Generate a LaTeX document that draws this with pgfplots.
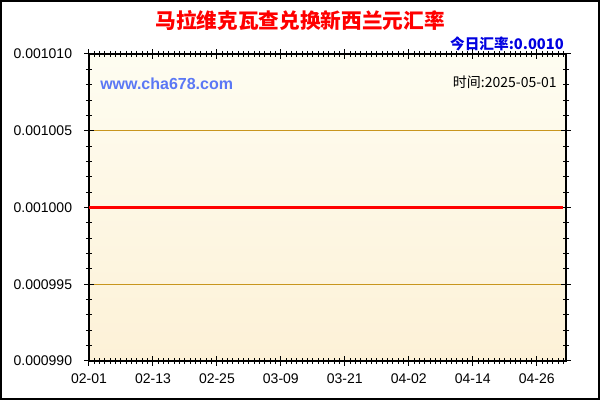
\documentclass[border=0pt]{standalone}
\usepackage{fontspec}
\setmainfont{Liberation Sans}
\newfontfamily\cjk{Noto Sans CJK SC}
\usepackage{pgfplots}
\pgfplotsset{compat=1.18}
\definecolor{gridgold}{HTML}{C8961E}
\definecolor{bgtop}{HTML}{FEFDF1}
\definecolor{bgbot}{HTML}{FDF1D7}
\definecolor{wmblue}{HTML}{5B78F5}
\definecolor{rateblue}{HTML}{0000E0}
\begin{document}
\begin{tikzpicture}[x=0.75pt,y=0.75pt]
\path[use as bounding box] (0,0) rectangle (600,400);
\begin{axis}[
    at={(66.75pt,29.25pt)}, anchor=south west,
    scale only axis,
    width=357.75pt, height=230.25pt,
    xmin=0, xmax=89.5,
    ymin=0.00099, ymax=0.00101,
    xtick={0,12,24,36,48,60,72,84},
    xticklabels={02-01,02-13,02-25,03-09,03-21,04-02,04-14,04-26},
    minor xtick={0,1,...,89},
    ytick={0.00099,0.000995,0.001,0.001005,0.00101},
    minor y tick num=4,
    scaled y ticks=false,
    yticklabel style={/pgf/number format/fixed, /pgf/number format/fixed zerofill,
        /pgf/number format/precision=6, /pgf/number format/assume math mode=true,
        xshift=-9pt},
    tick label style={font=\fontsize{10.5}{12}\selectfont, inner sep=0pt},
    xticklabel style={yshift=-6pt},
    tick align=center,
    major tick length=7pt,
    minor tick length=4.5pt,
    tick style={black, line width=0.75pt},
    axis line style={black, line width=1.1pt},
    ymajorgrids,
    major grid style={gridgold, line width=0.8pt},
    axis background/.style={top color=bgtop, bottom color=bgbot},
]
\addplot[red, line width=2.2pt] coordinates {
    (0,0.001) (12,0.001) (24,0.001) (36,0.001) (48,0.001)
    (60,0.001) (72,0.001) (84,0.001) (89,0.001)
};
\end{axis}
\node[text=red, font=\cjk\bfseries\fontsize{15.5}{18}\selectfont] at (300,380) {马拉维克瓦查兑换新西兰元汇率};
\node[anchor=east, inner sep=0pt, text=rateblue, font=\cjk\bfseries\fontsize{11}{13}\selectfont] at (564,356) {今日汇率:0.0010};
\node[anchor=west, inner sep=0pt, text=wmblue, font=\bfseries\fontsize{12}{14}\selectfont] at (100,316) {www.cha678.com};
\node[anchor=east, inner sep=0pt, font=\cjk\fontsize{10.5}{12}\selectfont] at (557,318) {时间:2025-05-01};
\draw[black, line width=1.5pt] (0.75,0.75) rectangle (599.25,399.25);
\end{tikzpicture}
\end{document}
